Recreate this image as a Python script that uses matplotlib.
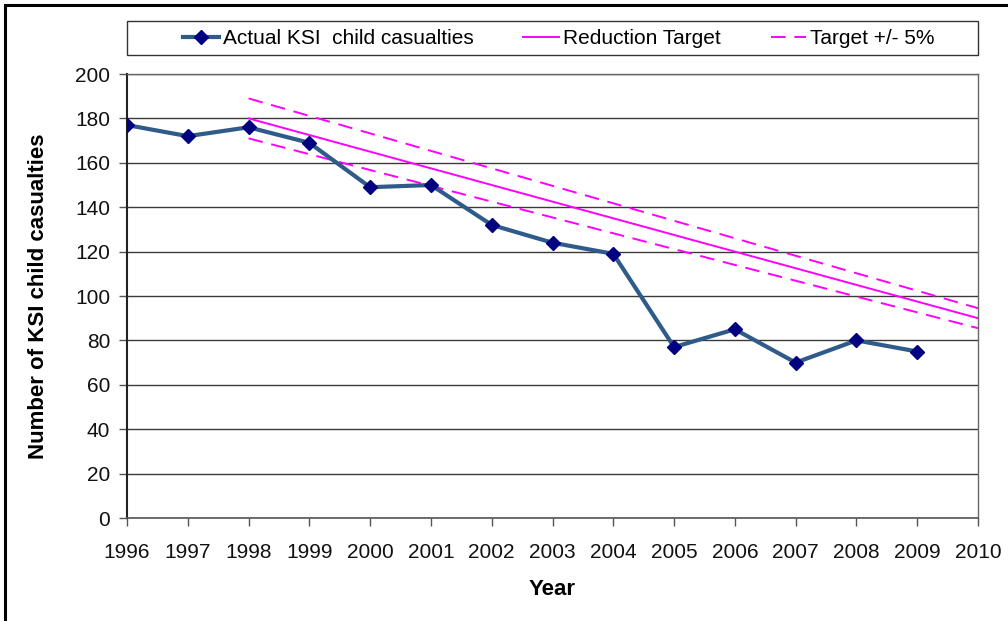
import matplotlib
matplotlib.use("Agg")
import matplotlib.pyplot as plt
from matplotlib.patches import Rectangle
from matplotlib.lines import Line2D

years = [1996, 1997, 1998, 1999, 2000, 2001, 2002, 2003, 2004, 2005, 2006, 2007, 2008, 2009]
actual_ksi = [177, 172, 176, 169, 149, 150, 132, 124, 119, 77, 85, 70, 80, 75]

target_years = [1998, 2010]
reduction_target = [180, 90]
target_upper = [189, 94.5]
target_lower = [171, 85.5]

x_ticks = list(range(1996, 2011))
y_ticks = list(range(0, 201, 20))

plt.rcParams['font.family'] = ['Liberation Sans', 'DejaVu Sans']

fig = plt.figure(figsize=(10.08, 6.21), dpi=100)
ax = fig.add_axes([127 / 1008, 1 - 518 / 621, 851 / 1008, 444 / 621])

line_col = '#2F5B8A'
marker_col = '#000080'
mag = '#FF00FF'
dash = (0, (7.5, 4.5))

ax.plot(years, actual_ksi, color=line_col, lw=3, marker='D', ms=7,
        mfc=marker_col, mec=marker_col, zorder=4)
ax.plot(target_years, reduction_target, color=mag, lw=1.4, zorder=3)
ax.plot(target_years, target_upper, color=mag, lw=1.4, ls=dash, zorder=3)
ax.plot(target_years, target_lower, color=mag, lw=1.4, ls=dash, zorder=3)

ax.set_xlim(1996, 2010)
ax.set_ylim(0, 200)
ax.set_xticks(x_ticks)
ax.set_xticklabels([str(y) for y in x_ticks])
ax.set_yticks(y_ticks)
ax.yaxis.grid(True, color='#3a3a3a', lw=1)
ax.set_axisbelow(True)

for side in ['top', 'right']:
    ax.spines[side].set_color('#666666')
    ax.spines[side].set_linewidth(1)
ax.spines['left'].set_color('#222222')
ax.spines['left'].set_linewidth(1.5)
ax.spines['bottom'].set_color('#555555')
ax.spines['bottom'].set_linewidth(1.2)

ax.tick_params(axis='both', direction='out', length=6, width=1, color='#555555',
               labelsize=15, labelcolor='#111111')
ax.tick_params(axis='x', pad=12)
ax.tick_params(axis='y', pad=6)

ax.set_xlabel('Year', fontsize=16, fontweight='bold', labelpad=12)
ax.set_ylabel('Number of KSI child casualties', fontsize=16, fontweight='bold', labelpad=19)

# legend box across the top
fig.patches.append(Rectangle((127 / 1008, 1 - 55 / 621), 851 / 1008, 34 / 621,
                             transform=fig.transFigure, fill=False,
                             edgecolor='#333333', lw=1))
handles = [
    Line2D([], [], color=line_col, lw=3, marker='D', ms=7, mfc=marker_col, mec=marker_col),
    Line2D([], [], color=mag, lw=1.4),
    Line2D([], [], color=mag, lw=1.4, ls=dash),
]
labels = ['Actual KSI  child casualties', 'Reduction Target', 'Target +/- 5%']
fig.legend(handles, labels, loc='center', ncol=3, frameon=False,
           bbox_to_anchor=(559 / 1008, 1 - 39 / 621), fontsize=15,
           handlelength=1.7, handletextpad=0.2, columnspacing=2.4)

# outer border of the figure
fig.patches.append(Rectangle((5 / 1008, -0.05), 1.1, 1 - 5 / 621 + 0.05,
                             transform=fig.transFigure, fill=False,
                             edgecolor='black', lw=2.2))

fig.savefig('out.png', dpi=100)
